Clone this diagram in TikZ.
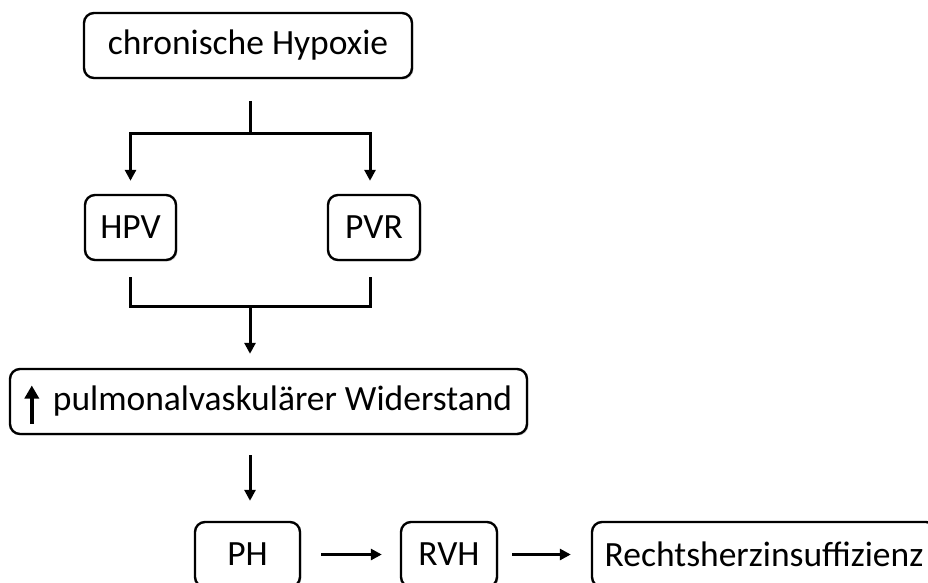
\documentclass[tikz,border=0pt]{standalone}
\usepackage{fontspec}
\setmainfont{Carlito}
\usetikzlibrary{arrows.meta,shadows,calc}
\begin{document}
\begin{tikzpicture}[x=1pt,y=-1pt,
  box/.style={draw=black,line width=2.4pt,rounded corners=10pt,fill=white,
    minimum height=65pt,inner sep=0pt,
    font=\fontsize{35.5}{42}\selectfont,
    drop shadow={shadow xshift=1.5pt,shadow yshift=-1.5pt,opacity=0.25,fill=gray}},
  conn/.style={line width=3pt},
  arr/.style={line width=3pt,-{Triangle[width=11pt,length=11pt]}}]
\useasboundingbox (0,0) rectangle (928,583);
\clip (0,0) rectangle (928,583);
\node[box,minimum width=328pt] (chron) at (248,45.5) {chronische Hypoxie};
\node[box,minimum width=91pt] (hpv) at (130.5,227.5) {HPV};
\node[box,minimum width=92pt] (pvr) at (374,227.5) {PVR};
\node[box,minimum width=517pt] (pw) at (268.5,401.5) {\hspace{28pt}pulmonalvaskulärer Widerstand};
\node[box,minimum width=105pt] (ph) at (247.5,554.5) {PH};
\node[box,minimum width=96pt] (rvh) at (449,554.5) {RVH};
\node[box,minimum width=344pt] (rhi) at (764,554.5) {Rechtsherzinsuffizienz};
% thick arrow inside pw
\draw[line width=4.5pt,-{Triangle[width=14pt,length=13pt]}] ([xshift=23pt,yshift=-22pt]pw.west) -- ([xshift=23pt,yshift=16pt]pw.west);
% top fork
\coordinate (c1) at (250,101);
\coordinate (j1) at (250,133);
\draw[conn] (c1) -- (j1);
\draw[arr,shorten >=13pt] (j1) -| (hpv.north);
\draw[arr,shorten >=13pt] (j1) -| ([xshift=-4pt]pvr.north);
% bottom fork
\coordinate (j2) at (250,306);
\draw[conn,line join=miter] ([yshift=-16pt]hpv.south) -- (hpv.south |- j2) -- ([xshift=-4pt]pvr.south |- j2) -- ([xshift=-4pt,yshift=-16pt]pvr.south);
\draw[arr,shorten >=14pt] (j2) -- (j2 |- pw.north);
\draw[arr,shorten <=20pt,shorten >=20pt] (j2 |- pw.south) -- (j2 |- ph.north);
% bottom row
\draw[arr,shorten <=20pt,shorten >=18pt] (ph.east) -- (rvh.west);
\draw[arr,shorten <=14pt,shorten >=20pt] (rvh.east) -- (rhi.west);
\end{tikzpicture}
\end{document}
